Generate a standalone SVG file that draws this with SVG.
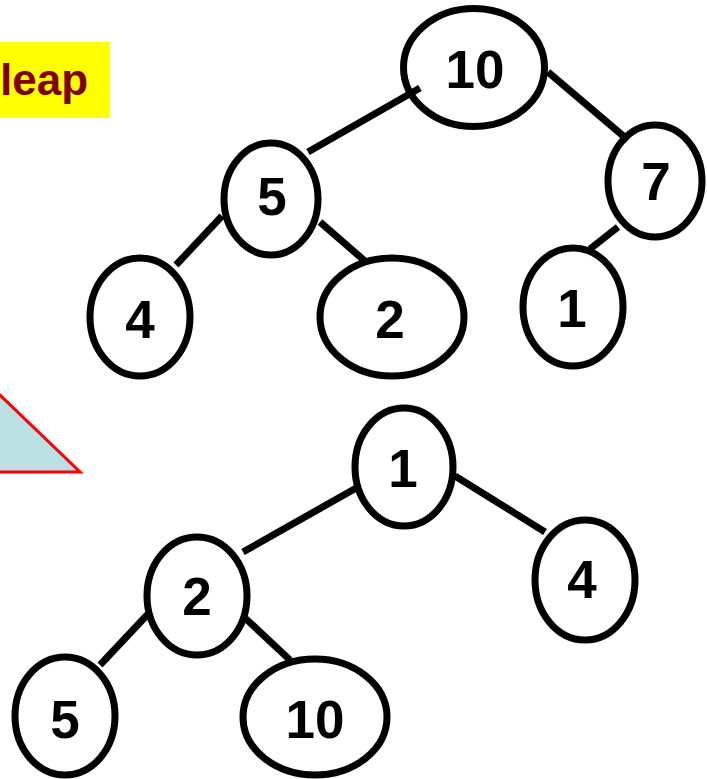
<svg xmlns="http://www.w3.org/2000/svg" width="707" height="779" viewBox="0 0 707 779">
<style>
.n{fill:#fff;stroke:#000;stroke-width:7}
.t{font-family:"Liberation Sans",Arial,sans-serif;font-weight:bold;font-size:53px;fill:#000;text-anchor:middle}
.e{stroke:#000;stroke-width:7;fill:none}
</style>
<rect x="0" y="42" width="110" height="76" fill="#ffff00"/>
<text x="0" y="95" font-family="Liberation Sans, Arial, sans-serif" font-weight="bold" font-size="44" fill="#800000">leap</text>
<polygon points="-25,371 80,472 -25,472" fill="#bbe0e3" stroke="#ff0000" stroke-width="3"/>
<g id="a10"><ellipse class="n" cx="474" cy="67.5" rx="70.5" ry="59"/><text class="t" x="475" y="88">10</text></g>
<g id="a5"><ellipse class="n" cx="271" cy="199" rx="47" ry="56"/><text class="t" x="272" y="215">5</text></g>
<g id="a7"><ellipse class="n" cx="655" cy="181" rx="47" ry="56"/><text class="t" x="656" y="200">7</text></g>
<g id="a4"><ellipse class="n" cx="140" cy="317" rx="50" ry="59"/><text class="t" x="140" y="338">4</text></g>
<g id="a2"><ellipse class="n" cx="392" cy="317" rx="72" ry="59"/><text class="t" x="390" y="338">2</text></g>
<g id="a1"><ellipse class="n" cx="573" cy="307" rx="50" ry="59"/><text class="t" x="572" y="327">1</text></g>
<g id="b1"><ellipse class="n" cx="404" cy="467" rx="49" ry="59"/><text class="t" x="403" y="487">1</text></g>
<g id="b4"><ellipse class="n" cx="585" cy="580" rx="50" ry="60"/><text class="t" x="582" y="598">4</text></g>
<g id="b2"><ellipse class="n" cx="197" cy="596" rx="50" ry="59"/><text class="t" x="197" y="615">2</text></g>
<g id="b5"><ellipse class="n" cx="65" cy="716" rx="50" ry="59"/><text class="t" x="65" y="738">5</text></g>
<g id="b10"><ellipse class="n" cx="315" cy="717" rx="72" ry="58"/><text class="t" x="315" y="738">10</text></g>
<g id="connectors">
<line class="e" x1="308" y1="152" x2="420" y2="88"/>
<line class="e" x1="548" y1="72" x2="628" y2="140"/>
<line class="e" x1="618" y1="227" x2="590" y2="249"/>
<line class="e" x1="222" y1="216" x2="176" y2="265"/>
<line class="e" x1="320" y1="222" x2="366" y2="262"/>
<line class="e" x1="358" y1="487" x2="243" y2="552"/>
<line class="e" x1="455" y1="476" x2="545" y2="532"/>
<line class="e" x1="148" y1="614" x2="100" y2="665"/>
<line class="e" x1="245" y1="618" x2="290" y2="660"/>
</g>
</svg>
